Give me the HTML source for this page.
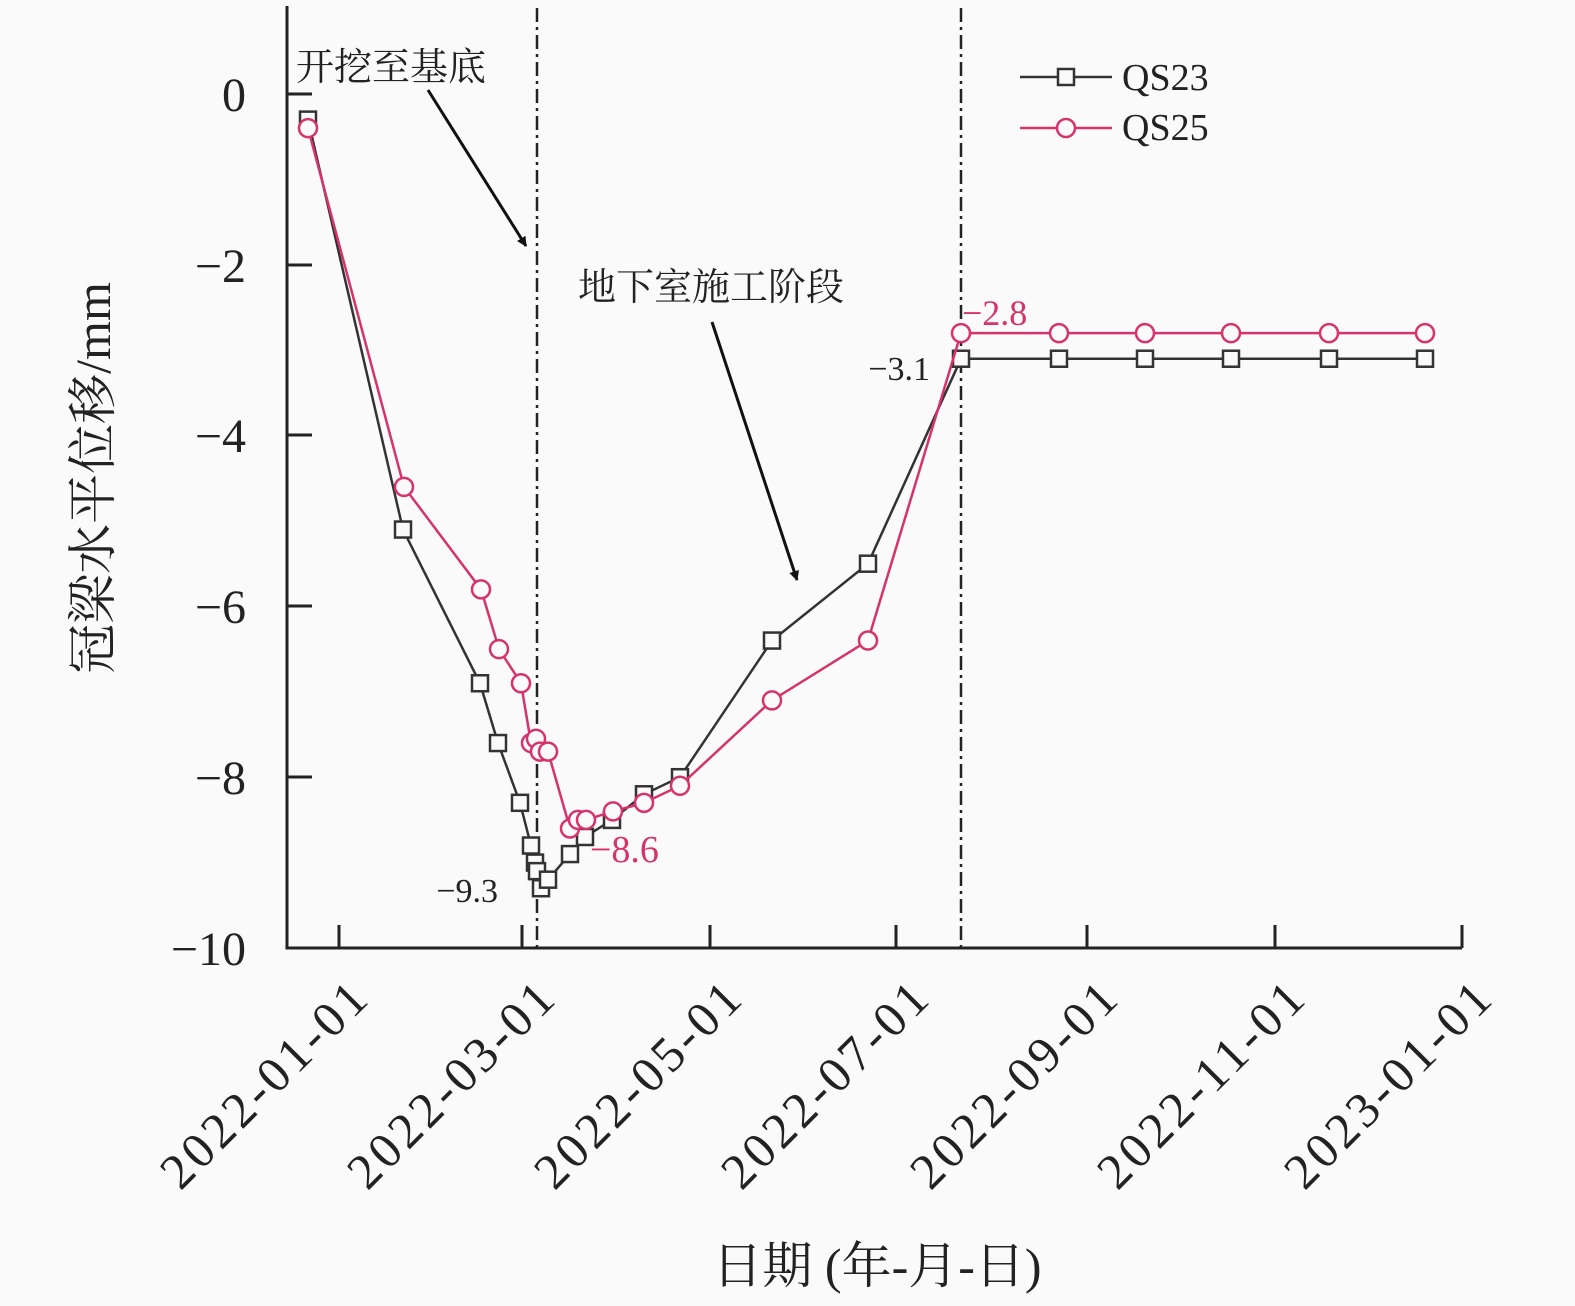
<!DOCTYPE html>
<html><head><meta charset="utf-8"><style>
html,body{margin:0;padding:0;background:#fafafa;}
svg{display:block;font-family:"Liberation Serif","Noto Serif CJK SC",serif;}
</style></head><body>
<svg id="s" width="1575" height="1306" viewBox="0 0 1575 1306" xmlns="http://www.w3.org/2000/svg">
<rect width="1575" height="1306" fill="#fafafa"/>
<defs><marker id="ar" markerWidth="10" markerHeight="10" refX="9" refY="5" orient="auto" markerUnits="userSpaceOnUse" viewBox="0 0 10 10"><path d="M0,0 L10,5 L0,10 z" fill="#111"/></marker></defs>
<path d="M287,6 V948 H1462" fill="none" stroke="#222" stroke-width="3"/>
<g stroke="#222" stroke-width="3">
<line x1="287" y1="94" x2="312" y2="94"/><line x1="287" y1="265" x2="312" y2="265"/><line x1="287" y1="435" x2="312" y2="435"/><line x1="287" y1="606" x2="312" y2="606"/><line x1="287" y1="777" x2="312" y2="777"/>
<line x1="339" y1="948" x2="339" y2="925"/><line x1="522" y1="948" x2="522" y2="925"/><line x1="710" y1="948" x2="710" y2="925"/><line x1="896" y1="948" x2="896" y2="925"/><line x1="1087" y1="948" x2="1087" y2="925"/><line x1="1275" y1="948" x2="1275" y2="925"/><line x1="1462" y1="948" x2="1462" y2="925"/>
</g>
<g font-size="48" fill="#222" text-anchor="end">
<text x="246" y="111">0</text><text x="246" y="282">−2</text><text x="246" y="452">−4</text><text x="246" y="623">−6</text><text x="246" y="794">−8</text><text x="246" y="965">−10</text>
</g>
<g font-size="50" fill="#222" text-anchor="end">
<text transform="translate(370,1002) rotate(-45)" textLength="268">2022-01-01</text>
<text transform="translate(557,1002) rotate(-45)" textLength="268">2022-03-01</text>
<text transform="translate(744,1002) rotate(-45)" textLength="268">2022-05-01</text>
<text transform="translate(931,1002) rotate(-45)" textLength="268">2022-07-01</text>
<text transform="translate(1120,1002) rotate(-45)" textLength="268">2022-09-01</text>
<text transform="translate(1307,1002) rotate(-45)" textLength="268">2022-11-01</text>
<text transform="translate(1494,1002) rotate(-45)" textLength="268">2023-01-01</text>
</g>
<text x="877" y="1283" font-size="50" text-anchor="middle" fill="#222">日期 (年-月-日)</text>
<text transform="translate(110,478) rotate(-90)" font-size="50" text-anchor="middle" fill="#222">冠梁水平位移/mm</text>
<g stroke="#222" stroke-width="2.5" stroke-dasharray="14,5,3,5">
<line x1="537" y1="8" x2="537" y2="948"/><line x1="961" y1="8" x2="961" y2="948"/>
</g>
<text x="296" y="80" font-size="38" fill="#222">开挖至基底</text>
<line x1="428" y1="90" x2="526" y2="246" stroke="#111" stroke-width="3" marker-end="url(#ar)"/>
<text x="578" y="300" font-size="38" fill="#222">地下室施工阶段</text>
<line x1="712" y1="322" x2="797" y2="580" stroke="#111" stroke-width="3" marker-end="url(#ar)"/>
<g id="series"></g>
<text x="498" y="902" font-size="34" fill="#222" text-anchor="end">−9.3</text>
<text x="590" y="862" font-size="38" fill="#d6336c">−8.6</text>
<text x="930" y="380" font-size="34" fill="#222" text-anchor="end">−3.1</text>
<text x="962" y="325" font-size="36" fill="#d6336c">−2.8</text>
<line x1="1020" y1="77" x2="1112" y2="77" stroke="#333" stroke-width="2.5"/>
<rect x="1058" y="69" width="16" height="16" fill="#fafafa" stroke="#333" stroke-width="2.5"/>
<text x="1122" y="90" font-size="38" fill="#222">QS23</text>
<line x1="1020" y1="128" x2="1112" y2="128" stroke="#d6336c" stroke-width="2.5"/>
<circle cx="1066" cy="128" r="9" fill="#fafafa" stroke="#d6336c" stroke-width="2.5"/>
<text x="1122" y="140" font-size="38" fill="#222">QS25</text>
</svg>
<script>
function Y(v){return 94 - v*85.4;}
var a=[[308,-0.3],[403,-5.1],[480,-6.9],[498,-7.6],[520,-8.3],[531,-8.8],[535,-9.0],[537,-9.1],[541,-9.3],[548,-9.2],[570,-8.9],[585,-8.7],[612,-8.5],[644,-8.2],[680,-8.0],[772,-6.4],[868,-5.5],[961,-3.1],[1059,-3.1],[1145,-3.1],[1231,-3.1],[1329,-3.1],[1425,-3.1]];
var b=[[308,-0.4],[404,-4.6],[481,-5.8],[499,-6.5],[521,-6.9],[531,-7.6],[536,-7.55],[540,-7.7],[548,-7.7],[570,-8.6],[578,-8.5],[586,-8.5],[613,-8.4],[644,-8.3],[680,-8.1],[772,-7.1],[868,-6.4],[961,-2.8],[1059,-2.8],[1145,-2.8],[1231,-2.8],[1329,-2.8],[1425,-2.8]];
var g=document.getElementById('series'),h='';
h+='<polyline fill="none" stroke="#333" stroke-width="2.5" points="'+a.map(p=>p[0]+','+Y(p[1])).join(' ')+'"/>';
a.forEach(p=>{h+='<rect x="'+(p[0]-8)+'" y="'+(Y(p[1])-8)+'" width="16" height="16" fill="#fafafa" stroke="#333" stroke-width="2.5"/>';});
h+='<polyline fill="none" stroke="#d6336c" stroke-width="2.5" points="'+b.map(p=>p[0]+','+Y(p[1])).join(' ')+'"/>';
b.forEach(p=>{h+='<circle cx="'+p[0]+'" cy="'+Y(p[1])+'" r="9" fill="#fafafa" stroke="#d6336c" stroke-width="2.5"/>';});
g.innerHTML=h;
</script>
</body></html>
